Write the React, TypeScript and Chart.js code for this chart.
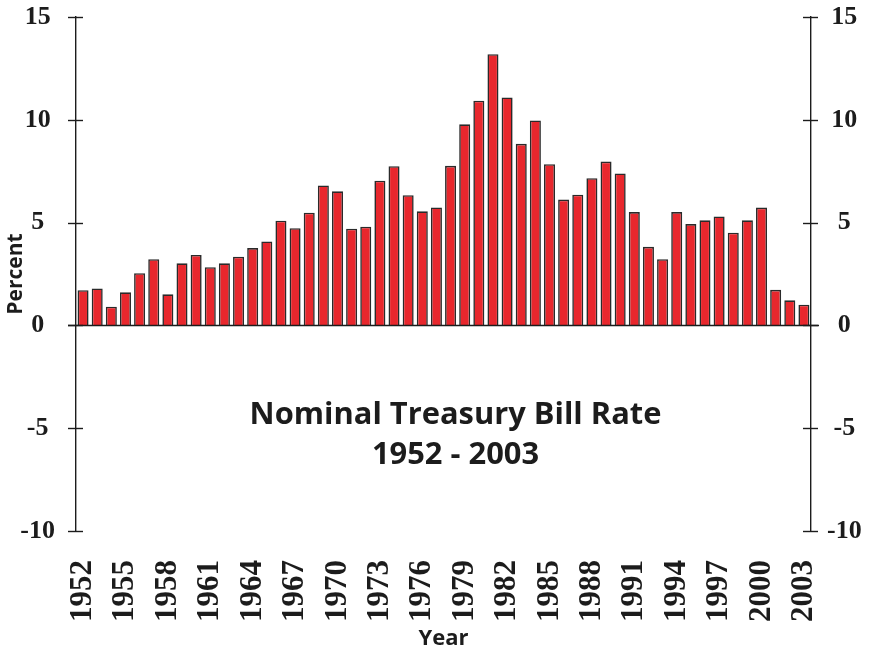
import React, { useEffect, useRef } from 'react';
import { Chart, registerables } from 'chart.js';

Chart.register(...registerables);

const years = [
  '1952', '1953', '1954', '1955', '1956', '1957', '1958', '1959', '1960', '1961',
  '1962', '1963', '1964', '1965', '1966', '1967', '1968', '1969', '1970', '1971',
  '1972', '1973', '1974', '1975', '1976', '1977', '1978', '1979', '1980', '1981',
  '1982', '1983', '1984', '1985', '1986', '1987', '1988', '1989', '1990', '1991',
  '1992', '1993', '1994', '1995', '1996', '1997', '1998', '1999', '2000', '2001',
  '2002', '2003',
];

const rates = [
  1.71, 1.80, 0.91, 1.61, 2.54, 3.22, 1.51, 3.02, 3.43, 2.83,
  3.02, 3.34, 3.76, 4.08, 5.09, 4.73, 5.48, 6.81, 6.52, 4.70,
  4.80, 7.04, 7.74, 6.33, 5.55, 5.74, 7.76, 9.78, 10.93, 13.19,
  11.09, 8.83, 9.97, 7.84, 6.12, 6.36, 7.16, 7.97, 7.39, 5.51,
  3.82, 3.22, 5.51, 4.93, 5.11, 5.30, 4.51, 5.11, 5.73, 1.73,
  1.22, 1.01,
];

const yMin = -10;
const yMax = 15;
const yStep = 5;
const labelEvery = 3;

const titleLines = ['Nominal Treasury Bill Rate', '1952 - 2003'];
const xTitle = 'Year';
const yTitle = 'Percent';

const INK = '#1c1c1c';
const SANS = '"Open Sans"';

const decorPlugin = {
  id: 'decor',
  afterDatasetsDraw(chart: any) {
    const { ctx, chartArea, scales } = chart;
    const y = scales.y;
    const c = ctx as CanvasRenderingContext2D;
    c.save();
    c.strokeStyle = INK;
    c.lineWidth = 1.4;
    const y0 = Math.round(y.getPixelForValue(0)) + 0.5;
    c.beginPath();
    c.moveTo(chartArea.left - 8, y0);
    c.lineTo(chartArea.right + 8, y0);
    c.stroke();
    for (const t of y.ticks) {
      const py = Math.round(y.getPixelForValue(t.value)) + 0.5;
      for (const ax of [chartArea.left, chartArea.right]) {
        c.beginPath();
        c.moveTo(ax - 8, py);
        c.lineTo(ax + 7, py);
        c.stroke();
      }
    }
    c.restore();
  },
  afterDraw(chart: any) {
    const { ctx, chartArea, scales } = chart;
    const c = ctx as CanvasRenderingContext2D;
    const y0 = scales.y.getPixelForValue(0);
    const cx = (chartArea.left + chartArea.right) / 2 + 12;
    c.save();
    c.fillStyle = INK;
    c.textAlign = 'center';
    c.textBaseline = 'alphabetic';
    c.font = `bold 30px ${SANS}`;
    const w = c.measureText(titleLines[0]).width;
    const size = (30 * 412) / w;
    c.font = `bold ${size.toFixed(2)}px ${SANS}`;
    c.fillText(titleLines[0], cx, y0 + 99);
    c.fillText(titleLines[1], cx, y0 + 139);
    c.restore();
  },
};

export default function App() {
  const canvasRef = useRef<HTMLCanvasElement | null>(null);

  useEffect(() => {
    const canvas = canvasRef.current;
    if (!canvas) return;
    const tickFontY = { family: 'Liberation Serif', weight: 'bold' as const, size: 26 };
    const noPad = (s: any) => {
      s.paddingTop = 0;
      s.paddingBottom = 0;
    };
    const chart = new Chart(canvas, {
      type: 'bar',
      data: {
        labels: years,
        datasets: [
          {
            data: rates,
            backgroundColor: '#E8272D',
            borderColor: '#2a2a2a',
            borderWidth: 1.6,
            categoryPercentage: 1,
            barPercentage: 0.78,
          },
        ],
      },
      plugins: [decorPlugin],
      options: {
        responsive: false,
        animation: false,
        layout: { padding: { top: 17, left: 0, right: 0, bottom: 0 } },
        plugins: {
          legend: { display: false },
          tooltip: { enabled: false },
          title: { display: false },
        },
        scales: {
          x: {
            type: 'category',
            position: 'bottom',
            grid: { display: false },
            border: { display: false },
            ticks: {
              autoSkip: false,
              maxRotation: 90,
              minRotation: 90,
              padding: 21,
              color: INK,
              font: { family: 'Liberation Serif', weight: 'bold', size: 31 },
              callback: (_v: any, i: number) => (i % labelEvery === 0 ? years[i] : ''),
            },
            title: {
              display: true,
              text: xTitle,
              color: INK,
              font: { family: 'Open Sans', weight: 'bold', size: 22 },
              padding: { top: 0, bottom: 0 },
            },
            afterFit: (s: any) => {
              s.height = 121;
            },
          },
          y: {
            type: 'linear',
            position: 'left',
            min: yMin,
            max: yMax,
            grid: { display: false },
            border: { display: true, color: INK, width: 1.4 },
            ticks: {
              stepSize: yStep,
              padding: 13,
              crossAlign: 'center',
              color: INK,
              font: tickFontY,
            },
            title: {
              display: true,
              text: yTitle,
              color: INK,
              font: { family: 'Open Sans', weight: 'bold', size: 21 },
              padding: { top: 3, bottom: 0 },
            },
            afterFit: (s: any) => {
              s.width = 76;
              noPad(s);
            },
          },
          y2: {
            type: 'linear',
            position: 'right',
            min: yMin,
            max: yMax,
            grid: { display: false },
            border: { display: true, color: INK, width: 1.4 },
            ticks: {
              stepSize: yStep,
              padding: 8,
              crossAlign: 'center',
              color: INK,
              font: tickFontY,
            },
            afterFit: (s: any) => {
              s.width = 62;
              noPad(s);
            },
          },
        },
      },
    });
    return () => chart.destroy();
  }, []);

  return (
    <div style={{ position: 'absolute', left: 0, top: 0, width: 873, height: 652, background: '#fff' }}>
      <canvas ref={canvasRef} width={873} height={652} style={{ display: 'block' }} />
    </div>
  );
}
